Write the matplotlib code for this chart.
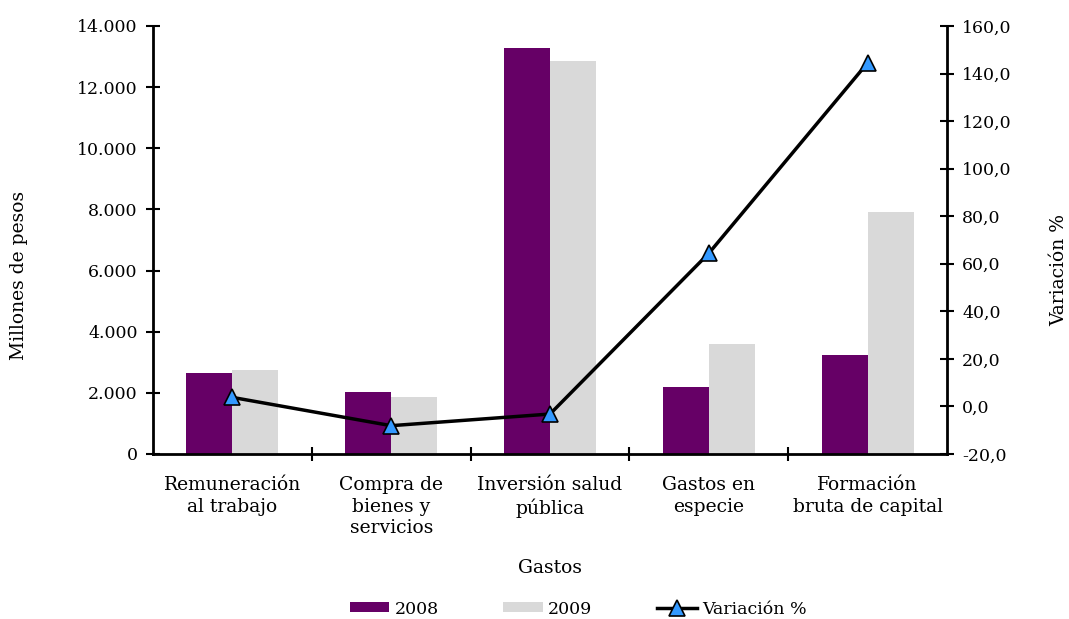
import matplotlib.pyplot as plt
from matplotlib.ticker import FuncFormatter

categories = ['Remuneración\nal trabajo', 'Compra de\nbienes y\nservicios',
              'Inversión salud\npública', 'Gastos en\nespecie',
              'Formación\nbruta de capital']
gastos_2008 = [2650, 2030, 13280, 2190, 3240]
gastos_2009 = [2750, 1865, 12855, 3600, 7915]
variacion = [3.8, -8.1, -3.2, 64.4, 144.5]

plt.rcParams['font.family'] = 'DejaVu Serif'
plt.rcParams['font.size'] = 12.5

fig = plt.figure(figsize=(10.69, 6.19), dpi=100)
ax = fig.add_axes([0.1431, 0.2666, 0.7428, 0.6914])
ax2 = ax.twinx()

x = list(range(len(categories)))
w = 0.29
b1 = ax.bar([i - w / 2 for i in x], gastos_2008, w, color='#660066', label='2008')
b2 = ax.bar([i + w / 2 for i in x], gastos_2009, w, color='#d9d9d9', label='2009')
l1, = ax2.plot(x, variacion, color='black', lw=2.5, marker='^', markersize=11.5,
               markerfacecolor='#3399ff', markeredgecolor='black',
               markeredgewidth=1.2, label='Variación %')

ax.set_xlim(-0.5, 4.5)
ax.set_ylim(0, 14000)
ax.set_yticks(range(0, 14001, 2000))
ax.yaxis.set_major_formatter(FuncFormatter(lambda v, p: f'{v:,.0f}'.replace(',', '.')))
ax2.set_ylim(-20, 160)
ax2.set_yticks(range(-20, 161, 20))
ax2.yaxis.set_major_formatter(FuncFormatter(lambda v, p: f'{v:.1f}'.replace('.', ',')))

ax.set_xticks([i + 0.5 for i in x[:-1]])
ax.set_xticklabels([])
ax.set_xticks(x, minor=True)
ax.set_xticklabels(categories, minor=True, fontsize=13.5, linespacing=1.25)
ax.tick_params(axis='x', which='minor', length=0, pad=16)
ax.tick_params(axis='x', which='major', direction='inout', length=10, width=1.5)
ax.tick_params(axis='y', direction='inout', length=10, width=1.5, pad=6)
ax2.tick_params(axis='y', direction='inout', length=10, width=1.5, pad=6)

for a in (ax, ax2):
    a.spines['top'].set_visible(False)
    for s in ('left', 'right', 'bottom'):
        a.spines[s].set_linewidth(2)
ax.spines['right'].set_visible(False)
ax2.spines['left'].set_visible(False)
ax2.spines['bottom'].set_visible(False)

# Axis titles placed in figure coordinates
fig.text(550 / 1069, 1 - 568 / 619, 'Gastos', ha='center', va='center', fontsize=13.5)
fig.text(19 / 1069, 1 - 275 / 619, 'Millones de pesos', rotation=90,
         ha='center', va='center', fontsize=13.5)
fig.text(1059 / 1069, 1 - 270 / 619, 'Variación %', rotation=90,
         ha='center', va='center', fontsize=13.5)

fig.legend(handles=[b1, b2, l1], loc='center', ncol=3, frameon=False,
           bbox_to_anchor=(578 / 1069, 1 - 609 / 619), handlelength=2.3,
           handleheight=0.5, handletextpad=0.3, columnspacing=3.7, fontsize=12.5)

fig.savefig('out.png', dpi=100)
